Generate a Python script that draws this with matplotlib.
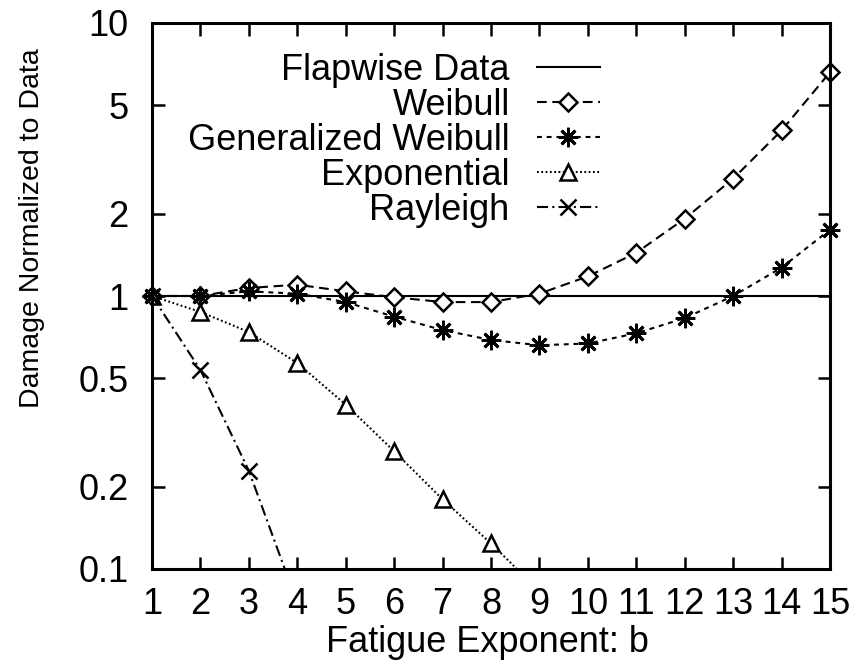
import matplotlib
matplotlib.use("Agg")
import matplotlib.pyplot as plt

# fatigue exponent b
b = [1, 2, 3, 4, 5, 6, 7, 8, 9, 10, 11, 12, 13, 14, 15]

# damage normalized to flapwise data
flapwise = [1.0] * 15
weibull = [1.0, 1.0, 1.07, 1.10, 1.04, 0.99, 0.95, 0.95, 1.02, 1.18, 1.44, 1.92, 2.69, 4.04, 6.6]
gen_weibull = [1.0, 1.0, 1.04, 1.02, 0.95, 0.84, 0.75, 0.69, 0.66, 0.67, 0.73, 0.83, 1.0, 1.27, 1.75]
b_exp = [1, 2, 3, 4, 5, 6, 7, 8, 9]
exponential = [1.0, 0.874, 0.738, 0.568, 0.40, 0.27, 0.18, 0.124, 0.083]
b_ray = [1, 2, 3, 4]
rayleigh = [1.0, 0.536, 0.229, 0.075]

yticks = [0.1, 0.2, 0.5, 1, 2, 5, 10]
ytick_labels = ["0.1", "0.2", "0.5", "1", "2", "5", "10"]

plt.rcParams['font.family'] = ['Liberation Sans', 'DejaVu Sans']
plt.rcParams['lines.scale_dashes'] = False

W, H = 849, 662
fig = plt.figure(figsize=(W / 100, H / 100), dpi=100)
ax = fig.add_axes([152 / W, 1 - 569 / H, 678 / W, 546 / H])

fs = 26
lw = 1.5

ax.plot(b, flapwise, color='black', lw=lw, ls='-', label='Flapwise Data')
ax.plot(b, weibull, color='black', lw=lw, ls=(0, (7, 4)), marker='D', ms=9.5,
        mfc='white', mec='black', mew=1.8, label='Weibull', clip_on=False)
ax.plot(b, gen_weibull, color='black', lw=lw, ls=(0, (3.5, 3.5)), marker=(8, 2, 0), ms=14,
        mec='black', mew=2.0, label='Generalized Weibull', clip_on=False)
ax.plot(b_exp, exponential, color='black', lw=lw, ls=(0, (1.3, 1.8)), marker='^', ms=11.5,
        mfc='white', mec='black', mew=1.8, label='Exponential')
ax.plot(b_ray, rayleigh, color='black', lw=lw, ls=(0, (8, 3, 1.5, 3)), marker='x', ms=12,
        mec='black', mew=1.8, label='Rayleigh')

ax.set_yscale('log')
ax.set_xlim(1, 15)
ax.set_ylim(0.1, 10)
ax.set_xticks(b)
ax.set_xticklabels([str(v) for v in b])
ax.set_yticks(yticks)
ax.set_yticklabels(ytick_labels)
ax.minorticks_off()
ax.tick_params(which='major', direction='in', length=9, width=1.8,
               top=True, right=True, labelsize=fs)
ax.tick_params(axis='x', pad=13)
ax.tick_params(axis='y', pad=17)
for s in ax.spines.values():
    s.set_linewidth(2.2)

fig.text(487 / W, 1 - 652 / H, 'Fatigue Exponent: b', ha='center', va='baseline', fontsize=fs)
fig.text(32 / W, 1 - 228 / H, 'Damage Normalized to Data', ha='center', va='center',
         rotation=90, fontsize=20.5)

leg = ax.legend(loc='upper right', bbox_to_anchor=(600 / W, 1 - 53 / H),
                bbox_transform=fig.transFigure, frameon=False, markerfirst=False,
                fontsize=fs, handlelength=1.75, handletextpad=0.75, labelspacing=0.0,
                borderpad=0, borderaxespad=0, numpoints=1)

fig.savefig('out.png', dpi=100)
